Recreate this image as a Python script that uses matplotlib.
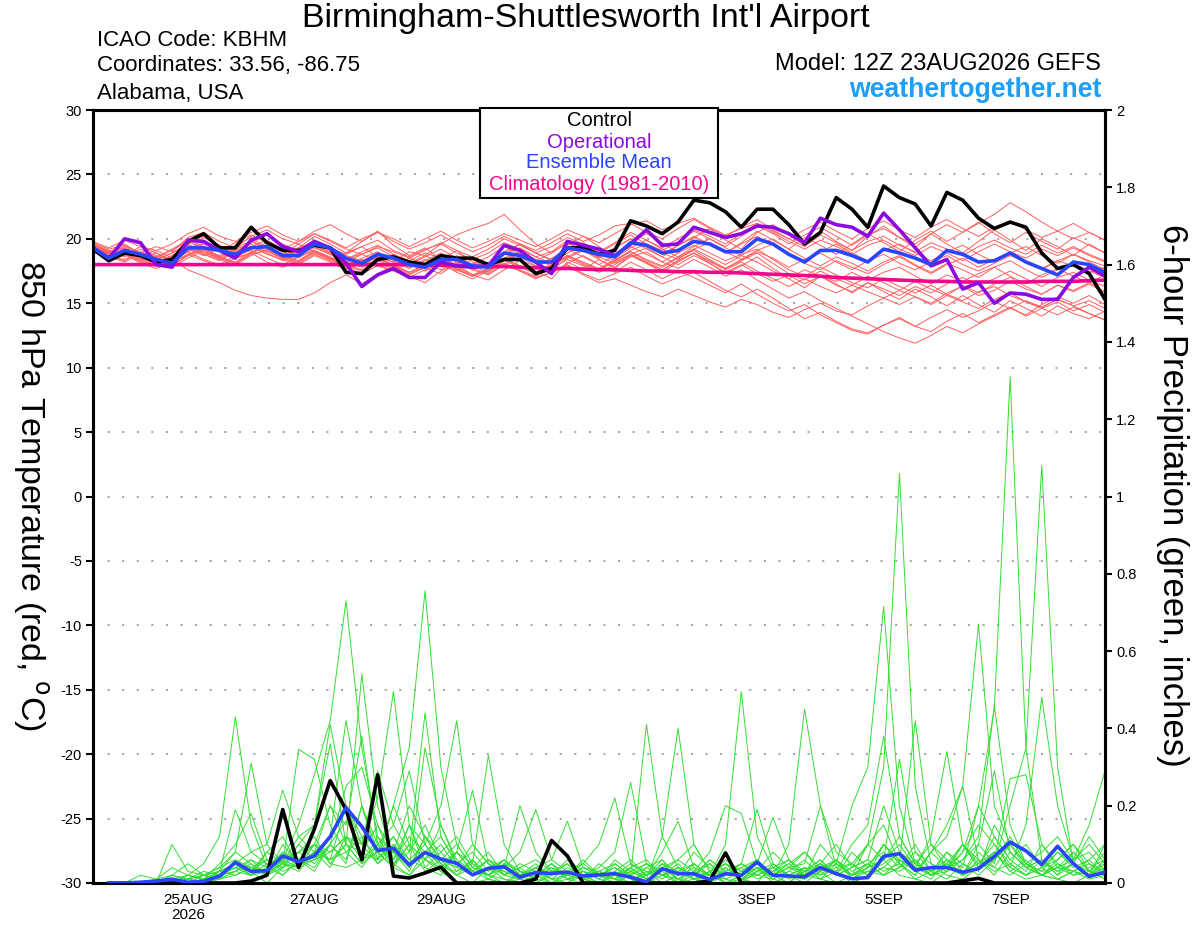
import matplotlib
matplotlib.use('Agg')
import matplotlib.pyplot as plt
from matplotlib.patches import Rectangle

plt.rcParams['font.family'] = ['Liberation Sans', 'DejaVu Sans']

# ---------------- data ----------------
hours = list(range(0, 385, 6))          # forecast hours from 12Z 23AUG2026
precip_hours = hours[1:]
tick_hours = [36, 84, 132, 204, 252, 300, 348]
tick_labels = ['25AUG\n2026', '27AUG', '29AUG', '1SEP', '3SEP', '5SEP', '7SEP']
temp_ticks = [-30, -25, -20, -15, -10, -5, 0, 5, 10, 15, 20, 25, 30]
precip_ticks = [0, 0.2, 0.4, 0.6, 0.8, 1.0, 1.2, 1.4, 1.6, 1.8, 2.0]
precip_tick_labels = ['0', '0.2', '0.4', '0.6', '0.8', '1', '1.2', '1.4', '1.6', '1.8', '2']

control_temp = [19.2, 18.3, 18.9, 18.7, 18.2, 18.4, 19.8, 20.4, 19.3, 19.3, 20.9, 19.7, 19.1,
                19.1, 19.5, 19.3, 17.4, 17.3, 18.4, 18.6, 18.2, 18.0, 18.7, 18.5, 18.5, 18.0,
                18.4, 18.4, 17.3, 17.7, 19.3, 19.3, 18.8, 19.1, 21.4, 21.0, 20.4, 21.3, 23.0,
                22.8, 22.1, 20.9, 22.3, 22.3, 21.1, 19.6, 20.5, 23.2, 22.3, 20.9, 24.1, 23.2,
                22.7, 21.0, 23.6, 23.0, 21.6, 20.8, 21.3, 20.9, 18.9, 17.7, 18.0, 17.3, 15.3]

oper_temp = [19.3, 18.5, 20.0, 19.7, 18.0, 17.8, 19.9, 19.8, 19.1, 18.5, 19.9, 20.4, 19.4,
             19.0, 19.8, 19.3, 18.1, 16.3, 17.2, 17.7, 17.0, 17.0, 18.2, 17.9, 17.8, 17.9,
             19.5, 19.1, 18.2, 17.3, 19.8, 19.5, 19.2, 18.7, 19.6, 20.7, 19.5, 19.6, 20.9,
             20.5, 20.1, 20.4, 21.0, 20.9, 20.4, 19.7, 21.6, 21.1, 20.9, 20.2, 22.0, 20.7,
             19.3, 17.9, 18.4, 16.1, 16.6, 15.0, 15.8, 15.7, 15.3, 15.3, 17.0, 17.8, 17.1]

mean_temp = [19.3, 18.5, 19.1, 18.8, 18.4, 18.1, 19.3, 19.3, 19.1, 18.8, 19.3, 19.4, 18.7,
             18.7, 19.6, 19.3, 18.5, 18.1, 18.8, 18.5, 18.0, 17.8, 18.4, 18.4, 17.9, 17.8,
             18.9, 18.7, 18.2, 18.2, 19.3, 19.1, 18.8, 18.6, 19.7, 19.5, 18.9, 19.1, 19.8,
             19.6, 19.0, 19.0, 20.0, 19.6, 18.8, 18.2, 19.1, 19.1, 18.7, 18.2, 19.2, 18.9,
             18.5, 18.0, 19.1, 18.8, 18.2, 18.3, 18.9, 18.2, 17.7, 17.2, 18.2, 18.0, 17.4]

clim_temp = [18.0, 18.0, 18.0, 18.0, 18.0, 18.0, 18.0, 18.0, 18.0, 18.0, 18.0, 18.0, 18.0,
             18.0, 18.0, 18.0, 18.0, 18.0, 18.0, 18.0, 18.0, 17.95, 17.95, 17.9, 17.9, 17.85,
             17.85, 17.8, 17.75, 17.7, 17.7, 17.65, 17.6, 17.6, 17.55, 17.5, 17.5, 17.45, 17.45,
             17.4, 17.4, 17.35, 17.3, 17.25, 17.2, 17.15, 17.1, 17.0, 16.95, 16.9, 16.85, 16.8,
             16.75, 16.7, 16.7, 16.65, 16.65, 16.65, 16.65, 16.65, 16.7, 16.7, 16.7, 16.75, 16.8]

temp_members = [
    [19.6, 19.1, 18.7, 19.4, 18.9, 18.2, 19.0, 20.1, 19.4, 18.8, 19.9, 19.2, 18.5,
     19.3, 20.2, 19.6, 18.9, 19.8, 20.6, 19.5, 18.7, 19.3, 18.4, 19.1, 18.2, 17.9,
     18.8, 19.6, 18.9, 18.3, 19.5, 20.2, 19.4, 18.6, 19.8, 20.4, 19.7, 18.9, 20.1,
     20.8, 19.9, 19.2, 20.5, 21.1, 20.3, 19.5, 20.6, 19.8, 19.1, 20.2, 21.0, 20.1,
     19.3, 20.4, 19.6, 18.9, 19.8, 20.7, 19.9, 19.1, 20.0, 19.4, 18.7, 19.6, 18.9],
    [19.2, 18.6, 18.9, 18.2, 17.9, 18.4, 17.6, 17.1, 16.6, 16.0, 15.6, 15.4, 15.3,
     15.3, 15.8, 16.6, 17.2, 16.5, 17.3, 17.9, 17.1, 16.6, 17.5, 18.0, 17.2, 16.8,
     17.6, 18.3, 17.5, 16.9, 18.2, 17.6, 18.4, 17.7, 18.8, 18.1, 17.4, 18.2, 18.9,
     18.1, 17.3, 17.9, 18.6, 17.7, 16.9, 16.2, 17.1, 16.5, 15.8, 16.6, 15.9, 15.3,
     16.1, 15.5, 14.8, 15.6, 14.9, 14.3, 15.2, 14.6, 14.0, 14.8, 14.2, 13.8, 14.4],
    [19.4, 18.9, 19.6, 18.8, 18.5, 19.1, 19.8, 19.2, 18.7, 19.5, 20.1, 19.3, 18.8,
     19.6, 19.0, 18.4, 18.9, 19.4, 18.6, 18.2, 19.0, 18.7, 19.6, 20.3, 20.8, 21.2,
     21.9, 20.7, 19.6, 18.9, 19.7, 19.1, 18.5, 19.3, 20.0, 19.2, 18.6, 19.5, 20.2,
     19.6, 18.9, 19.7, 20.6, 19.9, 19.2, 20.1, 19.5, 18.8, 19.6, 20.4, 19.7, 19.0,
     19.9, 20.6, 19.8, 20.5, 21.3, 20.4, 19.7, 20.5, 19.8, 19.2, 20.1, 19.5, 18.9],
    [19.3, 18.7, 18.3, 19.0, 18.6, 17.9, 18.7, 19.3, 18.6, 18.1, 18.9, 19.4, 18.6,
     18.2, 19.0, 18.5, 17.9, 18.4, 18.0, 17.5, 18.2, 17.7, 17.3, 18.1, 17.6, 17.2,
     18.0, 18.6, 17.9, 17.3, 18.1, 18.7, 18.0, 17.4, 18.2, 17.6, 16.9, 17.5, 17.0,
     16.4, 15.8, 16.5, 15.7, 15.0, 14.4, 14.9, 14.1, 13.5, 12.9, 12.6, 13.3, 13.9,
     13.2, 12.8, 13.6, 14.2, 13.5, 14.1, 14.7, 14.0, 14.6, 15.1, 14.4, 14.9, 14.3],
    [19.2, 18.5, 19.1, 18.4, 18.0, 18.6, 19.2, 18.7, 19.3, 18.5, 18.9, 19.5, 18.8,
     18.3, 19.1, 18.6, 18.0, 17.6, 18.3, 18.8, 18.0, 17.5, 18.2, 18.7, 17.9, 17.4,
     18.3, 18.9, 18.1, 17.6, 18.5, 19.1, 18.4, 17.8, 18.6, 19.0, 18.2, 17.7, 18.4,
     17.8, 17.1, 17.6, 16.8, 16.1, 15.4, 15.9, 15.2, 14.6, 14.0, 13.4, 12.8, 12.3,
     11.9, 12.5, 13.2, 12.7, 13.4, 14.0, 14.6, 14.1, 14.9, 15.5, 15.0, 15.6, 14.9],
    [19.5, 19.0, 19.3, 18.7, 19.1, 18.5, 19.6, 20.2, 19.5, 19.0, 19.7, 20.3, 19.6,
     19.1, 19.9, 19.3, 18.8, 19.4, 19.9, 19.1, 18.6, 19.2, 19.6, 18.9, 18.4, 18.9,
     19.7, 19.2, 18.6, 19.0, 19.9, 19.4, 18.9, 19.6, 20.3, 19.6, 19.1, 19.8, 20.6,
     20.0, 19.4, 20.2, 21.0, 20.4, 19.6, 20.3, 20.9, 20.2, 19.5, 20.3, 20.8, 20.1,
     19.6, 20.4, 21.1, 20.5, 21.2, 21.9, 22.8, 22.1, 21.3, 20.6, 21.2, 20.5, 19.9],
    [19.1, 18.6, 18.2, 18.8, 18.3, 17.8, 18.5, 19.1, 18.4, 18.0, 18.7, 19.2, 18.5,
     18.1, 18.8, 18.3, 17.7, 18.2, 18.7, 17.9, 17.4, 18.0, 18.5, 17.8, 17.2, 17.7,
     18.4, 17.9, 17.4, 18.0, 18.7, 18.2, 17.7, 18.4, 19.0, 18.3, 17.8, 18.5, 19.1,
     18.4, 17.7, 18.3, 18.9, 18.1, 17.3, 16.8, 17.5, 16.9, 16.4, 17.1, 16.6, 16.0,
     16.7, 16.1, 15.6, 16.4, 15.8, 16.5, 17.0, 16.3, 15.7, 16.4, 15.9, 16.5, 15.8],
    [19.7, 19.2, 19.5, 18.9, 19.4, 19.0, 20.1, 20.5, 19.8, 19.3, 20.2, 20.7, 20.0,
     19.6, 20.4, 19.9, 19.3, 20.0, 20.5, 19.8, 19.2, 19.7, 20.3, 19.6, 19.0, 19.5,
     20.2, 19.6, 19.1, 19.7, 20.4, 19.8, 20.3, 21.0, 21.2, 20.5, 20.0, 20.8, 21.5,
     20.8, 20.2, 20.9, 21.5, 20.7, 20.0, 19.4, 20.3, 19.7, 19.1, 19.8, 20.2, 19.5,
     19.0, 19.7, 19.2, 18.7, 19.4, 19.9, 19.3, 18.8, 19.5, 18.9, 19.4, 18.8, 18.3],
    [19.3, 18.7, 19.0, 18.5, 18.1, 18.7, 19.3, 18.8, 18.4, 19.1, 19.4, 18.9, 18.3,
     18.8, 19.5, 18.9, 18.3, 17.9, 18.6, 18.2, 17.7, 18.3, 18.9, 18.2, 17.6, 18.1,
     18.9, 18.3, 17.9, 18.5, 19.2, 18.6, 18.0, 18.7, 19.4, 18.8, 18.2, 18.9, 19.5,
     18.9, 18.3, 18.8, 19.2, 18.4, 17.6, 17.1, 17.8, 17.2, 16.6, 16.2, 16.9, 16.3,
     15.8, 16.4, 15.7, 15.2, 15.9, 16.3, 15.6, 15.1, 14.7, 15.3, 14.8, 14.2, 13.7],
    [19.4, 18.8, 19.2, 18.6, 18.3, 18.9, 19.5, 18.9, 18.5, 19.2, 19.6, 19.0, 18.6,
     19.1, 19.7, 19.1, 18.5, 18.8, 18.3, 17.9, 18.5, 18.1, 17.6, 18.2, 17.7, 17.3,
     18.0, 17.5, 17.0, 17.4, 17.9, 17.2, 16.6, 16.9, 16.4, 15.9, 15.5, 16.1, 15.6,
     15.1, 14.7, 15.3, 14.9, 14.3, 13.9, 14.5, 15.0, 14.4, 14.1, 14.8, 15.4, 14.9,
     15.5, 15.0, 15.8, 16.3, 15.6, 16.0, 16.7, 16.1, 15.7, 16.4, 16.0, 16.6, 15.9],
    [19.0, 18.4, 18.8, 18.1, 17.7, 18.2, 18.8, 18.3, 17.9, 18.5, 18.9, 18.2, 17.8,
     18.3, 18.9, 18.4, 17.8, 17.3, 17.9, 17.5, 17.0, 17.6, 18.1, 17.4, 16.9, 17.5,
     18.1, 17.6, 17.1, 17.7, 18.4, 17.9, 17.4, 18.0, 18.7, 18.1, 17.6, 18.3, 18.9,
     18.2, 17.7, 18.4, 19.0, 18.5, 17.8, 18.4, 18.9, 18.2, 17.6, 18.3, 18.8, 18.1,
     17.6, 18.2, 18.7, 18.0, 17.5, 18.1, 18.7, 18.2, 17.7, 18.3, 17.9, 17.4, 17.8],
    [19.6, 19.0, 19.4, 18.9, 18.6, 19.2, 19.9, 19.4, 19.0, 19.7, 20.3, 19.7, 19.2,
     19.8, 20.4, 19.8, 19.2, 18.8, 19.4, 19.0, 18.5, 19.1, 19.7, 19.1, 18.6, 19.2,
     20.0, 19.5, 18.9, 19.4, 20.1, 19.6, 19.0, 19.7, 20.5, 19.9, 19.3, 20.0, 20.7,
     20.2, 19.6, 20.4, 21.2, 20.6, 20.0, 20.7, 21.3, 20.6, 20.0, 20.8, 21.4, 20.7,
     20.1, 20.9, 21.5, 20.8, 20.2, 20.9, 21.4, 20.7, 20.1, 20.6, 20.0, 20.5, 19.9],
    [19.2, 18.6, 18.4, 19.0, 18.4, 17.9, 18.8, 19.3, 18.6, 18.2, 19.0, 19.4, 18.7,
     18.2, 19.0, 18.5, 17.9, 18.5, 19.0, 18.3, 17.8, 18.4, 18.0, 17.5, 18.1, 17.7,
     18.5, 19.0, 18.4, 17.9, 18.6, 19.2, 18.6, 18.1, 18.8, 19.3, 18.6, 18.0, 18.7,
     18.1, 17.4, 18.0, 17.3, 16.7, 17.2, 16.5, 17.1, 16.4, 15.9, 16.6, 16.1, 15.6,
     16.3, 15.8, 16.5, 17.0, 16.4, 16.9, 17.5, 16.9, 16.3, 17.0, 17.4, 16.8, 16.3],
    [19.4, 18.9, 19.3, 18.7, 18.4, 18.9, 19.6, 19.0, 18.6, 19.3, 19.8, 19.2, 18.7,
     19.3, 19.8, 19.2, 18.7, 18.3, 18.9, 18.5, 18.0, 18.6, 19.2, 18.5, 18.0, 18.6,
     19.4, 18.8, 18.3, 18.9, 19.7, 19.1, 18.6, 19.3, 20.0, 19.4, 18.8, 19.5, 20.1,
     19.5, 18.9, 19.6, 20.2, 19.5, 18.8, 18.3, 19.0, 19.6, 18.9, 18.3, 19.1, 19.6,
     18.9, 18.3, 19.0, 19.5, 18.8, 18.2, 18.9, 19.4, 18.7, 18.1, 18.8, 18.3, 17.9],
    [19.3, 18.8, 19.1, 18.5, 18.1, 18.7, 19.3, 18.8, 18.3, 19.0, 19.4, 18.8, 18.4,
     18.9, 19.4, 18.8, 18.2, 17.8, 18.4, 18.0, 17.4, 17.9, 18.3, 17.6, 17.1, 17.6,
     18.1, 17.5, 16.9, 17.4, 18.0, 17.3, 16.8, 17.3, 17.8, 17.1, 16.5, 17.0, 17.4,
     16.7, 16.0, 15.5, 16.1, 15.4, 14.6, 13.8, 14.3, 13.6, 13.0, 12.7, 13.3, 13.8,
     13.2, 13.9, 14.5, 13.9, 14.4, 15.1, 14.6, 15.2, 14.7, 15.3, 14.8, 15.2, 14.6],
    [19.5, 19.0, 18.6, 19.2, 18.7, 18.3, 19.1, 19.7, 19.1, 18.6, 19.4, 19.9, 19.2,
     18.7, 19.5, 19.0, 18.4, 19.0, 19.5, 18.8, 18.3, 18.9, 18.5, 18.0, 18.6, 18.1,
     19.0, 19.6, 18.9, 18.4, 19.1, 19.7, 19.0, 18.5, 19.3, 19.9, 19.2, 18.6, 19.4,
     20.0, 19.3, 18.7, 19.5, 20.0, 19.2, 18.5, 17.9, 18.6, 18.1, 17.5, 18.2, 18.7,
     18.0, 17.4, 18.1, 17.6, 17.0, 17.8, 18.3, 17.6, 17.0, 17.6, 18.1, 17.5, 17.0],
    [19.1, 18.5, 18.9, 18.3, 18.6, 18.0, 18.7, 19.2, 18.5, 18.1, 18.8, 19.1, 18.4,
     18.0, 18.7, 18.2, 17.6, 18.1, 18.6, 17.9, 17.3, 17.8, 18.4, 17.7, 17.1, 17.6,
     18.3, 17.8, 17.3, 17.9, 18.6, 18.0, 17.6, 18.3, 19.0, 18.4, 17.9, 18.6, 19.2,
     18.6, 18.0, 18.7, 18.2, 17.5, 16.9, 17.6, 17.1, 16.7, 17.4, 16.8, 17.4, 17.8,
     17.1, 16.5, 17.2, 16.7, 17.3, 17.8, 17.1, 16.5, 17.2, 17.7, 17.1, 16.6, 17.2],
    [19.8, 19.3, 19.9, 19.4, 19.1, 19.6, 20.4, 20.9, 20.2, 19.8, 20.5, 21.0, 20.3,
     19.8, 20.6, 21.1, 20.4, 19.8, 20.5, 20.0, 19.4, 20.0, 20.6, 19.9, 19.3, 19.8,
     20.4, 19.9, 19.4, 20.0, 20.7, 20.2, 19.7, 20.4, 21.1, 21.4, 20.7, 21.2, 21.6,
     20.9, 20.3, 20.8, 21.2, 20.5, 19.8, 19.2, 19.9, 19.4, 18.8, 19.5, 19.9, 19.2,
     18.7, 19.4, 18.9, 18.3, 19.0, 19.6, 19.0, 18.5, 19.2, 18.7, 19.3, 18.7, 18.2],
    [19.3, 18.7, 19.1, 18.4, 18.9, 18.3, 19.0, 19.6, 19.0, 18.5, 19.2, 19.7, 19.0,
     18.5, 19.3, 18.8, 18.2, 18.8, 19.3, 18.6, 18.1, 18.7, 18.2, 17.8, 18.4, 17.9,
     18.8, 19.3, 18.6, 18.1, 18.9, 19.5, 18.8, 18.3, 19.1, 19.6, 18.9, 18.4, 19.2,
     19.7, 19.0, 18.4, 19.1, 19.6, 18.8, 18.1, 17.6, 18.3, 17.8, 17.3, 18.0, 18.6,
     17.9, 17.3, 18.0, 18.5, 17.8, 18.4, 18.9, 18.2, 17.6, 18.3, 18.8, 18.2, 17.6],
    [19.2, 18.6, 18.9, 18.3, 17.9, 18.5, 19.0, 18.4, 18.0, 18.7, 19.1, 18.5, 18.0,
     18.6, 19.1, 18.5, 17.9, 17.5, 18.1, 17.7, 17.2, 17.8, 18.3, 17.6, 17.1, 17.7,
     18.5, 17.9, 17.4, 18.0, 18.7, 18.1, 17.6, 18.2, 18.8, 18.2, 17.6, 18.3, 18.9,
     18.3, 17.6, 18.2, 17.5, 16.9, 16.3, 16.9, 16.3, 15.8, 16.4, 15.9, 15.4, 16.0,
     15.5, 14.9, 15.6, 15.1, 14.6, 15.3, 15.8, 15.1, 14.6, 14.1, 14.7, 14.2, 13.7],
]

control_precip = [0, 0, 0, 0, 0, 0, 0, 0, 0, 0.005, 0.02, 0.19, 0.04, 0.14, 0.265, 0.19,
                  0.06, 0.28, 0.018, 0.013, 0.026, 0.041, 0, 0, 0, 0, 0, 0.01, 0.11, 0.07, 0, 0,
                  0, 0, 0, 0, 0, 0, 0.005, 0.078, 0, 0, 0, 0, 0, 0, 0, 0,
                  0, 0, 0, 0, 0, 0, 0.006, 0.012, 0, 0, 0, 0, 0, 0, 0, 0]

mean_precip = [0, 0, 0.002, 0.005, 0.01, 0.002, 0.004, 0.018, 0.053, 0.03, 0.032, 0.07, 0.055, 0.07, 0.12, 0.195,
               0.146, 0.084, 0.09, 0.047, 0.079, 0.062, 0.051, 0.021, 0.038, 0.042, 0.015, 0.027, 0.025, 0.028, 0.018, 0.021,
               0.024, 0.015, 0.003, 0.037, 0.024, 0.024, 0.009, 0.024, 0.02, 0.054, 0.02, 0.018, 0.016, 0.04, 0.024, 0.011,
               0.014, 0.069, 0.076, 0.033, 0.04, 0.04, 0.028, 0.037, 0.069, 0.106, 0.083, 0.048, 0.095, 0.05, 0.017, 0.028]

precip_members = [
    [0, 0, 0, 0, 0.02, 0.01, 0, 0.03, 0.08, 0.05, 0.02, 0.06, 0.15, 0.28, 0.42, 0.73,
     0.35, 0.12, 0.05, 0.02, 0.08, 0.03, 0, 0, 0.01, 0.04, 0.02, 0, 0, 0.03, 0.01, 0,
     0, 0.02, 0, 0.05, 0.01, 0, 0.03, 0, 0, 0.06, 0.02, 0, 0.04, 0.01, 0, 0,
     0.02, 0.1, 0.05, 0.01, 0, 0.03, 0.08, 0.2, 0.45, 1.31, 0.35, 0.06, 0.02, 0.08, 0.03, 0.01],
    [0, 0, 0, 0, 0.01, 0, 0, 0.02, 0.05, 0.03, 0, 0.04, 0.1, 0.06, 0.12, 0.2,
     0.15, 0.08, 0.2, 0.35, 0.756, 0.3, 0.1, 0.04, 0.02, 0, 0.01, 0.03, 0, 0, 0.02, 0,
     0, 0, 0.03, 0, 0, 0.02, 0, 0.04, 0.01, 0, 0.05, 0.02, 0, 0.03, 0.06, 0.02,
     0.1, 0.3, 1.06, 0.25, 0.05, 0.02, 0.01, 0.04, 0.08, 0.03, 0.06, 0.02, 0.01, 0, 0.02, 0.05],
    [0, 0, 0.02, 0.01, 0.04, 0.02, 0.05, 0.12, 0.43, 0.15, 0.04, 0.02, 0.06, 0.03, 0.1, 0.05,
     0.2, 0.08, 0.04, 0.1, 0.03, 0.06, 0.02, 0, 0.04, 0.01, 0, 0.02, 0.05, 0.01, 0, 0.03,
     0.01, 0, 0.02, 0.06, 0, 0.03, 0.02, 0, 0.01, 0.04, 0, 0.02, 0.01, 0.05, 0.03, 0,
     0.02, 0.04, 0.08, 0.03, 0.01, 0.06, 0.02, 0.1, 0.05, 0.2, 0.35, 1.08, 0.3, 0.05, 0.02, 0.04],
    [0, 0, 0, 0, 0.1, 0.03, 0.02, 0.04, 0.08, 0.31, 0.1, 0.05, 0.12, 0.08, 0.2, 0.1,
     0.54, 0.2, 0.06, 0.15, 0.04, 0.02, 0.08, 0.03, 0.01, 0, 0.02, 0.04, 0.01, 0, 0.03, 0.02,
     0, 0.04, 0.01, 0.03, 0, 0.05, 0.02, 0.01, 0, 0.03, 0.08, 0.04, 0.02, 0.1, 0.05, 0.2,
     0.3, 0.715, 0.2, 0.05, 0.02, 0.04, 0.1, 0.06, 0.02, 0.08, 0.04, 0.02, 0.05, 0.03, 0.01, 0.02],
    [0, 0, 0, 0, 0, 0.02, 0.01, 0.03, 0.05, 0.02, 0.08, 0.12, 0.04, 0.06, 0.1, 0.16,
     0.1, 0.22, 0.495, 0.15, 0.06, 0.1, 0.04, 0.02, 0.06, 0.03, 0.01, 0, 0.02, 0.05, 0.01, 0,
     0.02, 0, 0.04, 0.02, 0, 0.01, 0.03, 0, 0.02, 0.05, 0.01, 0, 0.03, 0.02, 0.06, 0.01,
     0.04, 0.1, 0.05, 0.02, 0.08, 0.15, 0.25, 0.67, 0.2, 0.1, 0.05, 0.02, 0.06, 0.1, 0.03, 0.02],
    [0, 0, 0, 0, 0.01, 0, 0.02, 0.01, 0.05, 0.04, 0.02, 0.1, 0.05, 0.08, 0.04, 0.12,
     0.06, 0.1, 0.04, 0.15, 0.1, 0.2, 0.42, 0.1, 0.05, 0.02, 0.04, 0.01, 0, 0.02, 0.03, 0.01,
     0, 0.03, 0.01, 0, 0.02, 0.05, 0.02, 0.1, 0.495, 0.12, 0.04, 0.02, 0.01, 0.03, 0, 0.02,
     0.04, 0.06, 0.02, 0.01, 0.03, 0.05, 0.02, 0.04, 0.08, 0.03, 0.01, 0.02, 0.04, 0.06, 0.1, 0.05],
    [0, 0, 0, 0.01, 0.02, 0.05, 0.02, 0.03, 0.19, 0.08, 0.05, 0.04, 0.1, 0.15, 0.41, 0.2,
     0.1, 0.05, 0.08, 0.03, 0.12, 0.05, 0.02, 0.06, 0.01, 0, 0.03, 0.02, 0, 0.01, 0.04, 0.02,
     0.01, 0, 0.03, 0.02, 0.05, 0.01, 0, 0.02, 0.04, 0.06, 0.02, 0.1, 0.45, 0.2, 0.04, 0.02,
     0.05, 0.02, 0.04, 0.1, 0.03, 0.01, 0.05, 0.02, 0.06, 0.1, 0.04, 0.02, 0.01, 0.03, 0.05, 0.02],
    [0, 0, 0, 0, 0, 0.01, 0.02, 0.04, 0.06, 0.03, 0.08, 0.05, 0.346, 0.32, 0.15, 0.08,
     0.04, 0.1, 0.06, 0.12, 0.08, 0.05, 0.02, 0.04, 0.02, 0.01, 0, 0.02, 0.04, 0.01, 0.02, 0,
     0.03, 0.01, 0, 0.02, 0.04, 0.01, 0.03, 0, 0.02, 0.04, 0.01, 0.03, 0.02, 0.05, 0.02, 0.01,
     0.03, 0.02, 0.06, 0.04, 0.02, 0.08, 0.03, 0.05, 0.1, 0.04, 0.15, 0.48, 0.2, 0.06, 0.08, 0.03],
    [0, 0, 0, 0, 0.02, 0.01, 0, 0.02, 0.04, 0.06, 0.02, 0.05, 0.03, 0.08, 0.06, 0.1,
     0.05, 0.12, 0.08, 0.04, 0.35, 0.15, 0.06, 0.03, 0.02, 0.05, 0.01, 0, 0.03, 0.02, 0.01, 0.05,
     0.02, 0.04, 0.01, 0.12, 0.4, 0.1, 0.03, 0.05, 0.01, 0.02, 0.04, 0.01, 0.03, 0.06, 0.02, 0.04,
     0.1, 0.15, 0.05, 0.42, 0.1, 0.04, 0.02, 0.06, 0.03, 0.05, 0.02, 0.04, 0.01, 0.03, 0.02, 0.06],
    [0, 0, 0, 0, 0, 0.01, 0.03, 0.02, 0.05, 0.02, 0.03, 0.06, 0.04, 0.1, 0.06, 0.08,
     0.12, 0.05, 0.1, 0.06, 0.04, 0.08, 0.12, 0.05, 0.33, 0.1, 0.03, 0.02, 0.05, 0.01, 0.02, 0.03,
     0.05, 0.02, 0.41, 0.12, 0.04, 0.02, 0.05, 0.01, 0.03, 0.02, 0.04, 0.06, 0.02, 0.01, 0.05, 0.02,
     0.03, 0.05, 0.08, 0.04, 0.02, 0.03, 0.06, 0.12, 0.46, 0.15, 0.05, 0.02, 0.04, 0.03, 0.06, 0.1],
    [0, 0, 0, 0, 0.01, 0.02, 0.01, 0.05, 0.1, 0.18, 0.06, 0.04, 0.08, 0.12, 0.05, 0.1,
     0.08, 0.15, 0.05, 0.1, 0.06, 0.03, 0.08, 0.05, 0.02, 0.04, 0.2, 0.08, 0.03, 0.02, 0.06, 0.02,
     0.01, 0.03, 0.05, 0.02, 0.01, 0.04, 0.02, 0.03, 0.05, 0.02, 0.01, 0.03, 0.06, 0.02, 0.04, 0.05,
     0.02, 0.06, 0.1, 0.04, 0.12, 0.34, 0.1, 0.05, 0.08, 0.04, 0.02, 0.06, 0.03, 0.05, 0.02, 0.04],
    [0, 0, 0, 0, 0, 0, 0.01, 0.02, 0.04, 0.02, 0.05, 0.02, 0.06, 0.04, 0.1, 0.06,
     0.2, 0.1, 0.05, 0.08, 0.15, 0.06, 0.04, 0.1, 0.05, 0.02, 0.04, 0.06, 0.03, 0.05, 0.02, 0.04,
     0.08, 0.26, 0.05, 0.02, 0.04, 0.02, 0.06, 0.03, 0.01, 0.04, 0.02, 0.05, 0.08, 0.04, 0.03, 0.1,
     0.15, 0.38, 0.12, 0.05, 0.03, 0.06, 0.02, 0.08, 0.04, 0.1, 0.05, 0.08, 0.12, 0.06, 0.15, 0.29],
    [0, 0, 0, 0, 0, 0.01, 0, 0.02, 0.03, 0.06, 0.04, 0.08, 0.05, 0.06, 0.08, 0.12,
     0.08, 0.06, 0.12, 0.04, 0.08, 0.12, 0.05, 0.03, 0.06, 0.02, 0.01, 0.04, 0.02, 0.03, 0.01, 0.02,
     0.04, 0.01, 0.02, 0.05, 0.03, 0.01, 0.02, 0.05, 0.03, 0.06, 0.02, 0.04, 0.05, 0.2, 0.08, 0.05,
     0.1, 0.06, 0.32, 0.08, 0.05, 0.03, 0.1, 0.04, 0.06, 0.27, 0.28, 0.1, 0.04, 0.02, 0.03, 0.05],
    [0, 0, 0, 0, 0.01, 0, 0.01, 0.03, 0.02, 0.04, 0.03, 0.05, 0.08, 0.1, 0.05, 0.04,
     0.06, 0.08, 0.04, 0.02, 0.06, 0.04, 0.03, 0.06, 0.02, 0.05, 0.03, 0.01, 0.04, 0.02, 0.05, 0.1,
     0.22, 0.05, 0.02, 0.04, 0.06, 0.03, 0.08, 0.2, 0.18, 0.05, 0.02, 0.04, 0.03, 0.06, 0.02, 0.04,
     0.06, 0.03, 0.05, 0.02, 0.08, 0.04, 0.06, 0.1, 0.29, 0.08, 0.04, 0.06, 0.02, 0.05, 0.03, 0.08],
    [0, 0, 0, 0, 0, 0.02, 0.01, 0.02, 0.04, 0.03, 0.06, 0.05, 0.04, 0.08, 0.12, 0.42,
     0.2, 0.06, 0.1, 0.04, 0.12, 0.08, 0.03, 0.05, 0.02, 0.06, 0.03, 0.02, 0.05, 0.02, 0.03, 0.01,
     0.06, 0.03, 0.02, 0.08, 0.16, 0.04, 0.02, 0.06, 0.03, 0.05, 0.17, 0.06, 0.03, 0.05, 0.02, 0.08,
     0.04, 0.1, 0.06, 0.03, 0.08, 0.12, 0.25, 0.06, 0.04, 0.02, 0.05, 0.03, 0.08, 0.04, 0.06, 0.02],
    [0, 0, 0, 0, 0.01, 0, 0.02, 0.01, 0.06, 0.04, 0.02, 0.08, 0.06, 0.1, 0.2, 0.15,
     0.38, 0.1, 0.15, 0.08, 0.44, 0.12, 0.05, 0.02, 0.04, 0.06, 0.02, 0.03, 0.01, 0.02, 0.04, 0.03,
     0.02, 0.05, 0.03, 0.01, 0.04, 0.02, 0.06, 0.03, 0.05, 0.19, 0.05, 0.02, 0.04, 0.03, 0.06, 0.02,
     0.05, 0.08, 0.04, 0.06, 0.02, 0.05, 0.1, 0.04, 0.12, 0.06, 0.03, 0.1, 0.05, 0.02, 0.04, 0.06],
    [0, 0, 0, 0, 0, 0.01, 0.02, 0.03, 0.05, 0.08, 0.1, 0.24, 0.12, 0.15, 0.36, 0.1,
     0.05, 0.08, 0.12, 0.06, 0.1, 0.04, 0.08, 0.24, 0.05, 0.03, 0.02, 0.05, 0.01, 0.04, 0.02, 0.03,
     0.01, 0.04, 0.06, 0.02, 0.03, 0.05, 0.02, 0.04, 0.01, 0.03, 0.05, 0.02, 0.04, 0.01, 0.03, 0.05,
     0.02, 0.04, 0.03, 0.06, 0.02, 0.04, 0.08, 0.15, 0.1, 0.05, 0.02, 0.04, 0.06, 0.1, 0.05, 0.03],
    [0, 0, 0, 0, 0, 0, 0.01, 0.02, 0.03, 0.05, 0.02, 0.04, 0.06, 0.1, 0.08, 0.12,
     0.1, 0.29, 0.15, 0.29, 0.1, 0.05, 0.08, 0.03, 0.06, 0.04, 0.08, 0.19, 0.06, 0.16, 0.04, 0.02,
     0.03, 0.06, 0.02, 0.04, 0.01, 0.03, 0.05, 0.02, 0.04, 0.01, 0.03, 0.05, 0.02, 0.04, 0.06, 0.03,
     0.05, 0.02, 0.04, 0.08, 0.03, 0.05, 0.02, 0.04, 0.06, 0.12, 0.05, 0.03, 0.04, 0.08, 0.03, 0.02],
    [0, 0, 0, 0, 0, 0.01, 0, 0.01, 0.02, 0.04, 0.06, 0.03, 0.05, 0.08, 0.06, 0.2,
     0.12, 0.06, 0.2, 0.1, 0.06, 0.15, 0.05, 0.08, 0.03, 0.06, 0.02, 0.04, 0.06, 0.03, 0.05, 0.02,
     0.04, 0.02, 0.05, 0.03, 0.06, 0.1, 0.03, 0.05, 0.02, 0.04, 0.03, 0.06, 0.02, 0.05, 0.1, 0.04,
     0.06, 0.2, 0.08, 0.05, 0.1, 0.06, 0.04, 0.2, 0.12, 0.06, 0.1, 0.04, 0.08, 0.05, 0.12, 0.06],
    [0, 0, 0, 0, 0, 0, 0, 0.01, 0.03, 0.02, 0.04, 0.06, 0.08, 0.05, 0.1, 0.25,
     0.3, 0.15, 0.08, 0.2, 0.12, 0.06, 0.1, 0.04, 0.08, 0.02, 0.05, 0.03, 0.02, 0.06, 0.03, 0.01,
     0.05, 0.02, 0.04, 0.06, 0.02, 0.08, 0.04, 0.02, 0.05, 0.03, 0.02, 0.04, 0.08, 0.03, 0.05, 0.02,
     0.04, 0.06, 0.12, 0.05, 0.03, 0.08, 0.05, 0.03, 0.15, 0.08, 0.04, 0.06, 0.03, 0.05, 0.02, 0.1],
]

# ---------------- styles ----------------
C_MEMBER_T = '#ff5f5f'
C_MEMBER_P = '#33dd33'
C_CONTROL = 'black'
C_OPER = '#8a0ae0'
C_MEAN = '#2a45ff'
C_CLIM = '#f0088a'
C_SITE = '#1e9ff5'


def xy(xs, ys):
    n = min(len(xs), len(ys))
    return xs[:n], ys[:n]


fig = plt.figure(figsize=(12, 9.27), dpi=100)
ax = fig.add_axes([93 / 1200, 44 / 927, (1105 - 93) / 1200, (883 - 110) / 927])
ax2 = ax.twinx()

for m in temp_members:
    ax.plot(*xy(hours, m), color=C_MEMBER_T, lw=0.7, zorder=2)
ax.plot(*xy(hours, clim_temp), color=C_CLIM, lw=2.6, zorder=3)
ax.plot(*xy(hours, control_temp), color=C_CONTROL, lw=2.6, zorder=4)
ax.plot(*xy(hours, oper_temp), color=C_OPER, lw=2.6, zorder=5)
ax.plot(*xy(hours, mean_temp), color=C_MEAN, lw=2.6, zorder=6)

for m in precip_members:
    ax2.plot(*xy(precip_hours, m), color=C_MEMBER_P, lw=0.7, zorder=2)
ax2.plot(*xy(precip_hours, control_precip), color=C_CONTROL, lw=2.6, zorder=4)
ax2.plot(*xy(precip_hours, mean_precip), color=C_MEAN, lw=2.6, zorder=5)

ax.set_xlim(0, 384)
ax.set_ylim(-30, 30)
ax2.set_ylim(0, 2)

ax.set_yticks(temp_ticks)
ax.set_yticklabels([str(t) for t in temp_ticks])
ax2.set_yticks(precip_ticks)
ax2.set_yticklabels(precip_tick_labels)
ax.set_xticks(tick_hours)
ax.set_xticklabels(tick_labels)

for t in temp_ticks[1:-1]:
    ax.axhline(t, color='#a8a8a8', lw=1.5, linestyle=(0, (1, 6)), zorder=1)

ax.tick_params(axis='y', direction='out', length=5, width=1.5, labelsize=10.5, pad=3)
ax2.tick_params(axis='y', direction='out', length=5, width=1.5, labelsize=10.5, pad=3)
ax.tick_params(axis='x', length=0, labelsize=11, pad=7)
for lab in ax.get_xticklabels():
    lab.set_linespacing(1.1)

for a in (ax, ax2):
    for s in a.spines.values():
        s.set_linewidth(2.2)

# axis labels
fig.text(30 / 1200, 1 - 496 / 927, '850 hPa Temperature (red, $^{\\mathrm{o}}$C)', rotation=270,
         ha='center', va='center', fontsize=24.5)
fig.text(1172 / 1200, 1 - 495 / 927, '6-hour Precipitation (green, inches)', rotation=270,
         ha='center', va='center', fontsize=25)

# header texts
fig.text(586 / 1200, 1 - 19 / 927, "Birmingham-Shuttlesworth Int'l Airport", ha='center', va='center',
         fontsize=24.5)
fig.text(97 / 1200, 1 - 40 / 927, 'ICAO Code: KBHM', ha='left', va='center', fontsize=16)
fig.text(97 / 1200, 1 - 66 / 927, 'Coordinates: 33.56, -86.75', ha='left', va='center', fontsize=16)
fig.text(97 / 1200, 1 - 93 / 927, 'Alabama, USA', ha='left', va='center', fontsize=16)
fig.text(1101 / 1200, 1 - 64 / 927, 'Model: 12Z 23AUG2026 GEFS', ha='right', va='center', fontsize=17)
fig.text(1101 / 1200, 1 - 90 / 927, 'weathertogether.net', ha='right', va='center', fontsize=19.2,
         fontweight='bold', color=C_SITE)

# legend box
box = Rectangle((480 / 1200, 1 - 198 / 927), (718 - 480) / 1200, (198 - 108) / 927,
                transform=fig.transFigure, facecolor='white', edgecolor='black', lw=1.5, zorder=10)
fig.add_artist(box)
legend_entries = [('Control', C_CONTROL, 120), ('Operational', C_OPER, 142),
                  ('Ensemble Mean', C_MEAN, 163), ('Climatology (1981-2010)', C_CLIM, 185)]
for txt, col, ypix in legend_entries:
    fig.text(599 / 1200, 1 - ypix / 927, txt, ha='center', va='center', fontsize=14.5, color=col, zorder=11)

fig.savefig('out.png', dpi=100)
